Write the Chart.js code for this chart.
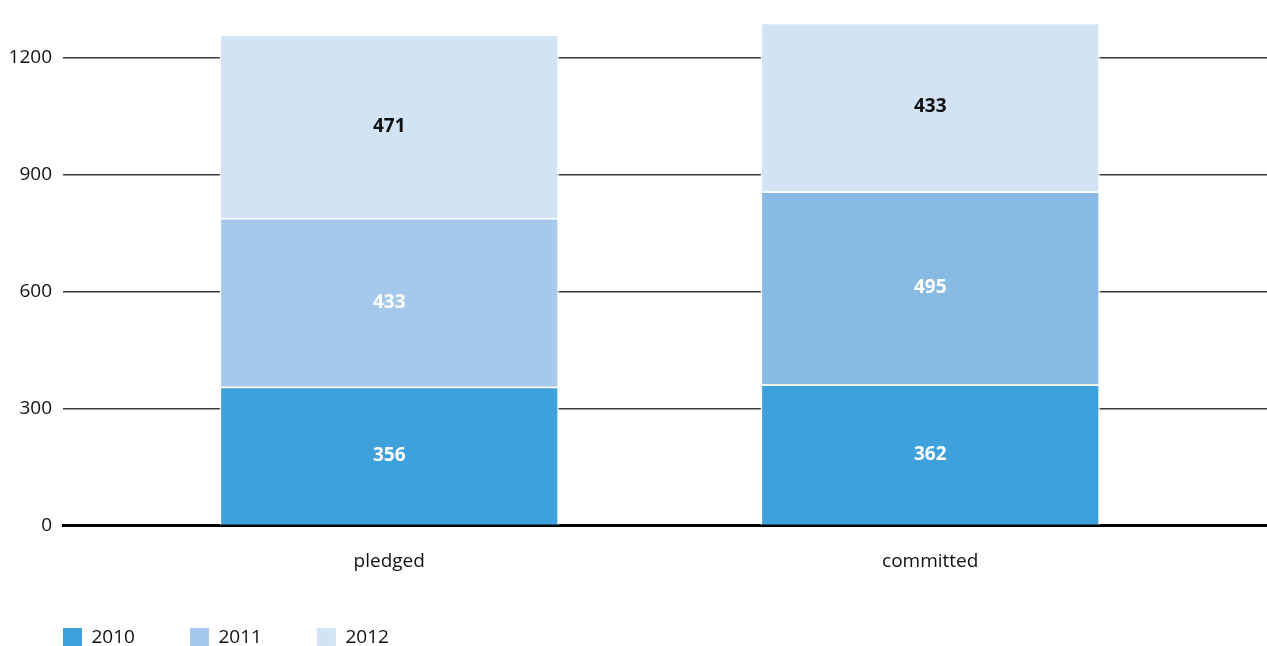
<!DOCTYPE html>
<html>
<head>
<meta charset="utf-8">
<script src="https://cdn.jsdelivr.net/npm/chart.js@4.4.0/dist/chart.umd.min.js"></script>
<style>
html, body { margin:0; padding:0; background:#fff; }
#wrap { width:1267px; height:646px; position:relative; }
</style>
</head>
<body>
<div id="wrap"><canvas id="chart"></canvas></div>
<script>
const categories = ['pledged', 'committed'];
const years = ['2010', '2011', '2012'];
const values2010 = [356, 362];
const values2011 = [433, 495];
const values2012 = [471, 433];
const yTicks = [0, 300, 600, 900, 1200];

const FONT = '"Open Sans", "Noto Sans", sans-serif';
const colors2010 = ['#3ea1db', '#3ea1db'];
const colors2011 = ['#a5c9ec', '#88bae4'];
const colors2012 = ['#d2e3f4', '#d2e3f4'];
const labelColors = ['#ffffff', '#ffffff', '#111111'];

const toPoints = vals => vals.map((v, i) => ({ x: i, y: v }));

// value labels in the middle of each segment
const barLabels = {
    id: 'barLabels',
    afterDatasetsDraw(chart) {
        const ctx = chart.ctx;
        ctx.save();
        ctx.font = 'bold 19px ' + FONT;
        ctx.textAlign = 'center';
        ctx.textBaseline = 'middle';
        chart.data.datasets.forEach((ds, i) => {
            chart.getDatasetMeta(i).data.forEach((bar, j) => {
                const p = bar.getCenterPoint();
                ctx.fillStyle = labelColors[i];
                ctx.fillText(ds.data[j].y, p.x, p.y);
            });
        });
        ctx.restore();
    }
};

const seriesData = [values2010, values2011, values2012];
const seriesColors = [colors2010, colors2011, colors2012];

new Chart(document.getElementById('chart').getContext('2d'), {
    type: 'bar',
    data: {
        datasets: years.map((y, i) => ({
            label: y,
            data: toPoints(seriesData[i]),
            backgroundColor: seriesColors[i],
            borderColor: '#ffffff',
            borderWidth: 1.5,
            barPercentage: 0.627,
            categoryPercentage: 1
        }))
    },
    options: {
        responsive: true,
        maintainAspectRatio: false,
        animation: false,
        layout: { padding: { top: 0, right: 0, bottom: 0, left: 8 } },
        plugins: {
            tooltip: { enabled: false },
            legend: {
                position: 'bottom',
                align: 'start',
                maxHeight: 73,
                labels: {
                    font: { family: FONT, size: 19 },
                    color: '#111',
                    boxWidth: 19,
                    boxHeight: 19,
                    padding: 55,
                    generateLabels(chart) {
                        const items = Chart.defaults.plugins.legend.labels.generateLabels(chart);
                        items.forEach((it, i) => {
                            it.fillStyle = seriesColors[i][0];
                            it.strokeStyle = seriesColors[i][0];
                            it.lineWidth = 0;
                        });
                        return items;
                    }
                }
            }
        },
        scales: {
            x: {
                type: 'linear',
                offset: false,
                stacked: true,
                min: -0.603,
                max: 1.6225,
                z: 1,
                grid: { display: false, drawTicks: false },
                border: { display: true, color: '#000', width: 3 },
                afterBuildTicks(s) { s.ticks = categories.map((_, i) => ({ value: i })); },
                afterFit(s) { s.height = 47.5; },
                ticks: {
                    padding: 25,
                    color: '#111',
                    font: { family: FONT, size: 19 },
                    callback: v => categories[v]
                }
            },
            y: {
                stacked: true,
                min: 0,
                max: 1320,
                border: { display: false },
                grid: {
                    drawTicks: false,
                    lineWidth: 1.5,
                    color: c => c.tick && c.tick.value === 0 ? 'rgba(0,0,0,0)' : '#3a3a3a'
                },
                afterBuildTicks(s) { s.ticks = yTicks.map(v => ({ value: v })); },
                afterFit(s) { s.width = 55; s.paddingTop = 11; },
                ticks: {
                    padding: 11,
                    color: '#111',
                    font: { family: FONT, size: 19 },
                    callback: v => String(v)
                }
            }
        }
    },
    plugins: [barLabels]
});
</script>
</body>
</html>
